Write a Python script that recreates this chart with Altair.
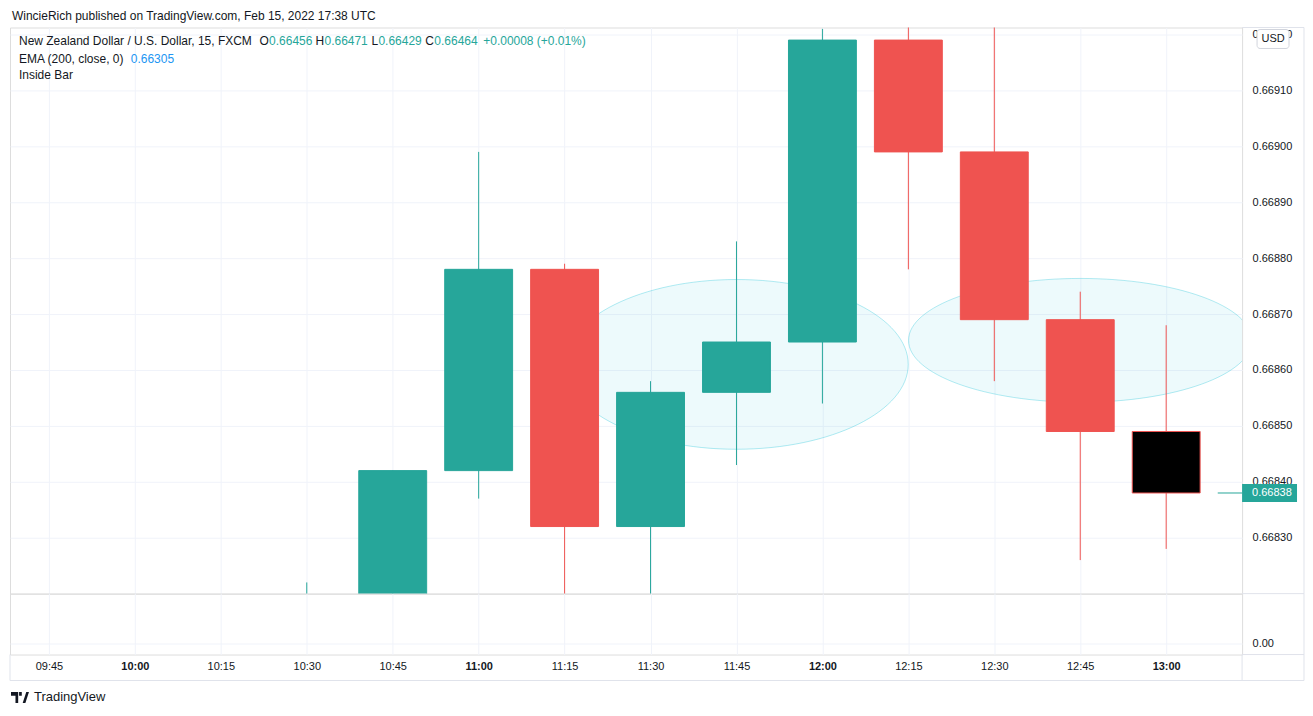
import altair as alt
import pandas as pd

# ---------------- data ----------------
times = ["10:30", "10:45", "11:00", "11:15", "11:30", "11:45",
         "12:00", "12:15", "12:30", "12:45", "13:00"]
opens = [0.66805, 0.66815, 0.66842, 0.66878, 0.66832, 0.66856,
         0.66865, 0.66919, 0.66899, 0.66869, 0.66849]
highs = [0.66822, 0.66842, 0.66899, 0.66879, 0.66858, 0.66883,
         0.66921, 0.66935, 0.66940, 0.66874, 0.66868]
lows = [0.66800, 0.66810, 0.66837, 0.66812, 0.66814, 0.66843,
        0.66854, 0.66878, 0.66858, 0.66826, 0.66828]
closes = [0.66815, 0.66842, 0.66878, 0.66832, 0.66856, 0.66865,
          0.66919, 0.66899, 0.66869, 0.66849, 0.66838]
kinds = ["up", "up", "up", "down", "up", "up", "up", "down", "down", "down", "inside"]
inside_bar = [0, 0, 0, 0, 0, 0, 0, 0, 0, 0, 0]

tick_labels = ["09:45", "10:00", "10:15", "10:30", "10:45", "11:00", "11:15",
               "11:30", "11:45", "12:00", "12:15", "12:30", "12:45", "13:00"]
price_ticks = [0.66830, 0.66840, 0.66850, 0.66860, 0.66870, 0.66880,
               0.66890, 0.66900, 0.66910, 0.66920]

ellipse_times = ["11:45", "12:45"]
ellipse_prices = [0.668610, 0.668653]

last_price = 0.66838
price_line_times = ["13:09", "13:20"]


def ts(hm):
    return f"2022-02-15T{hm}:00Z" if len(hm) == 5 else f"2022-02-15T{hm}Z"


def ms(hm):
    return int(pd.Timestamp(ts(hm)).value // 10**6)


candles = pd.DataFrame({
    "t": [ts(t) for t in times], "open": opens, "high": highs,
    "low": lows, "close": closes, "kind": kinds, "ib": inside_bar,
})
ell = pd.DataFrame({"t": [ts(t) for t in ellipse_times], "p": ellipse_prices})
pline = pd.DataFrame({"t": [ts(price_line_times[0])], "t2": [ts(price_line_times[1])],
                      "p": [last_price]})
one = pd.DataFrame({"a": [0]})

TEAL = "#26a69a"
RED = "#ef5350"
TXT = "#131722"
GRID = "#f0f3fa"
BORDER = "#e0e3eb"
FONT = "Liberation Sans"

W, H1, H2 = 1234, 567, 61

xscale = alt.Scale(type="utc", domain=[ms("09:38:12"), ms("13:13:15")], padding=0)
tick_ms = [ms(t) for t in tick_labels]
yscale = alt.Scale(domain=[0.66820, 0.6692125], nice=False, zero=False)

yaxis = alt.Axis(orient="right", values=price_ticks, format=".5f", title=None,
                 grid=True, gridColor=GRID, ticks=False, domain=False,
                 labelPadding=10, labelFontSize=11, labelColor=TXT, labelFont=FONT)
xgrid_axis = alt.Axis(values=tick_ms, labels=False, ticks=False, domain=False,
                      grid=True, gridColor=GRID, title=None)

X = alt.X("t:T", scale=xscale, axis=xgrid_axis)


def Yq(field):
    return alt.Y(field, scale=yscale, axis=yaxis)


def ellipse_path(k):
    c = 0.5523
    return (f"M -1 0 C -1 {-c*k:.4f} {-c} {-k:.4f} 0 {-k:.4f} "
            f"C {c} {-k:.4f} 1 {-c*k:.4f} 1 0 "
            f"C 1 {c*k:.4f} {c} {k:.4f} 0 {k:.4f} "
            f"C {-c} {k:.4f} -1 {c*k:.4f} -1 0 Z")


def ellipse_layer(i, k):
    return alt.Chart(ell.iloc[[i]]).mark_point(
        shape=ellipse_path(k), size=344 * 344, filled=True, fill="#00bcd4",
        fillOpacity=0.07, stroke="#00bcd4", strokeOpacity=0.3, strokeWidth=1,
        clip=True, opacity=1,
    ).encode(x=X, y=Yq("p:Q"))


def txt(text, x, y, color=TXT, size=12, align="left", weight="normal", font=FONT, baseline="middle"):
    return alt.Chart(one).mark_text(
        text=text, align=align, baseline=baseline, fontSize=size, color=color,
        fontWeight=weight, font=font,
    ).encode(x=alt.value(x), y=alt.value(y))


def hrule(x, x2, y, color=BORDER, w=1):
    return alt.Chart(one).mark_rule(color=color, strokeWidth=w).encode(
        x=alt.value(x), x2=alt.value(x2), y=alt.value(y))


def vrule(x, y, y2, color=BORDER, w=1):
    return alt.Chart(one).mark_rule(color=color, strokeWidth=w).encode(
        x=alt.value(x), y=alt.value(y), y2=alt.value(y2))


wicks = alt.Chart(candles).mark_rule(strokeWidth=1, clip=True).encode(
    x=X, y=Yq("low:Q"), y2="high:Q",
    color=alt.Color("kind:N", scale=alt.Scale(domain=["up", "down", "inside"],
                                              range=[TEAL, RED, RED]), legend=None),
)
bodies = alt.Chart(candles).mark_bar(width=68, strokeWidth=1, clip=True).encode(
    x=X, y=Yq("open:Q"), y2="close:Q",
    fill=alt.Fill("kind:N", scale=alt.Scale(domain=["up", "down", "inside"],
                                            range=[TEAL, RED, "#000000"]), legend=None),
    stroke=alt.Stroke("kind:N", scale=alt.Scale(domain=["up", "down", "inside"],
                                                range=[TEAL, RED, RED]), legend=None),
)
price_line = alt.Chart(pline).mark_rule(color=TEAL, strokeWidth=1, clip=True).encode(
    x=X, x2="t2:T", y=Yq("p:Q"))
price_tag = alt.Chart(pline).mark_tick(color=TEAL, orient="horizontal", size=55,
                                       thickness=18, opacity=1).encode(
    x=alt.value(1261.5), y=Yq("p:Q"))
price_tag_text = alt.Chart(pline).mark_text(
    align="left", baseline="middle", color="white", fontSize=11, font=FONT).encode(
    x=alt.value(1244), y=Yq("p:Q"), text=alt.Text("p:Q", format=".5f"))

usd_box = alt.Chart(one).mark_rect(fill="white", stroke="#d1d4dc", strokeWidth=1,
                                   cornerRadius=3).encode(
    x=alt.value(1249), x2=alt.value(1281), y=alt.value(2), y2=alt.value(21))
usd_text = txt("USD", 1265, 11.5, size=11, align="center")

header = [
    txt("WincieRich published on TradingView.com, Feb 15, 2022 17:38 UTC", 2, -12, size=12),
    txt("New Zealand Dollar / U.S. Dollar, 15, FXCM", 9, 14),
    txt("O", 250, 14), txt("0.66456", 259.5, 14, color=TEAL),
    txt("H", 306, 14), txt("0.66471", 315, 14, color=TEAL),
    txt("L", 362, 14), txt("0.66429", 369, 14, color=TEAL),
    txt("C", 416, 14), txt("0.66464", 425, 14, color=TEAL),
    txt("+0.00008 (+0.01%)", 474, 14, color=TEAL),
    txt("EMA (200, close, 0)", 9, 32), txt("0.66305", 121, 32, color="#2196f3"),
    txt("Inside Bar", 9, 48),
]

top = alt.layer(
    ellipse_layer(0, 85 / 172), ellipse_layer(1, 62 / 172),
    wicks, bodies, price_line, price_tag, price_tag_text,
    usd_box, usd_text,
    hrule(W, 1296, 0), vrule(1296, 0, H1),
    *header,
).properties(width=W, height=H1)

xaxis = alt.Axis(values=tick_ms, labelExpr="utcFormat(datum.value, '%H:%M')", title=None,
                 grid=True, gridColor=GRID, ticks=False, domain=False,
                 labelPadding=6, labelFontSize=11, labelColor=TXT, labelFont=FONT,
                 labelFontWeight={"condition": {"test": "utcminutes(datum.value) == 0",
                                                "value": "bold"}, "value": "normal"})

ib = alt.Chart(candles).mark_line(opacity=0).encode(
    x=alt.X("t:T", scale=xscale, axis=xaxis),
    y=alt.Y("ib:Q", scale=alt.Scale(domain=[-0.22, 1], nice=False, zero=False),
            axis=alt.Axis(orient="right", values=[0], format=".2f", title=None,
                          grid=True, gridColor=GRID, ticks=False, domain=False,
                          labelPadding=10, labelFontSize=11, labelColor=TXT,
                          labelFont=FONT)),
)

logo_path = ("M -1 -0.61 L -0.2 -0.61 L -0.2 0.61 L -0.5 0.61 L -0.5 -0.2 L -1 -0.2 Z "
             "M -0.1 -0.61 L 0.2 -0.61 L 0.2 -0.2 L -0.1 -0.2 Z "
             "M 0.3 0.61 L 0.7 -0.61 L 1 -0.61 L 0.6 0.61 Z")
logo = alt.Chart(one).mark_point(shape=logo_path, size=324, filled=True, fill=TXT,
                                 opacity=1).encode(x=alt.value(10), y=alt.value(104))

bottom = alt.layer(
    ib,
    hrule(W, 1296, 0), hrule(W, 1296, H2), vrule(1296, 0, 87), vrule(W, H2, 87),
    vrule(0, H2, 87), hrule(0, 1296, 87),
    logo, txt("TradingView", 24, 104, size=13),
).properties(width=W, height=H2)

chart = alt.vconcat(top, bottom, spacing=0, bounds="flush").properties(
    padding={"left": 1, "top": 0, "right": 0, "bottom": 0}
).configure_view(stroke=BORDER).configure(font=FONT, background="white")

chart.save("out.html", embed_options={"renderer": "svg", "actions": False})
